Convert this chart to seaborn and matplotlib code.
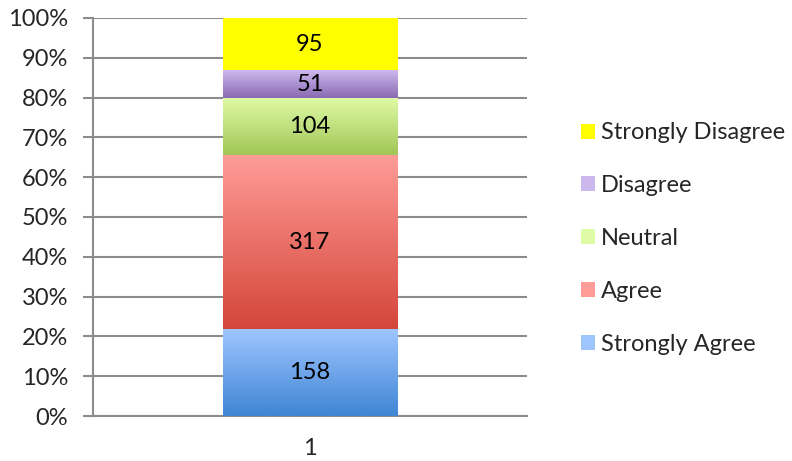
import numpy as np
import pandas as pd
import matplotlib
matplotlib.use("Agg")
import matplotlib.pyplot as plt
from matplotlib.colors import to_rgb
from matplotlib.patches import Patch
import seaborn as sns

# data
category = ["1"]
responses = ["Strongly Agree", "Agree", "Neutral", "Disagree", "Strongly Disagree"]
counts = [158, 317, 104, 51, 95]
# (top colour, bottom colour) of each gradient segment
top_colors = ["#9fc5ff", "#ff9c97", "#dffba6", "#cdb8ee", "#ffff00"]
bottom_colors = ["#3f86d5", "#d5463a", "#a2c657", "#8a6bb2", "#ffff00"]
y_ticks = [0, 0.1, 0.2, 0.3, 0.4, 0.5, 0.6, 0.7, 0.8, 0.9, 1.0]

sns.set_style("white")
plt.rcParams["font.family"] = ["Lato", "DejaVu Sans"]
FS = 17

df = pd.DataFrame({"cat": category * len(responses), "response": responses, "count": counts})
df["share"] = df["count"] / df["count"].sum()
df["bottom"] = df["share"].cumsum() - df["share"]

fig = plt.figure(figsize=(7.92, 4.61), dpi=100)
ax = fig.add_axes([0.1174, 0.0976, 0.548, 0.8634])

for i, row in df.iterrows():
    sns.barplot(x=[row["cat"]], y=[row["share"]], bottom=row["bottom"], color=bottom_colors[i],
                width=0.403, ax=ax, zorder=3, linewidth=0)

# gradient fill over each segment
for i, cont in enumerate(ax.containers):
    for p in cont:
        x0, y0, w, h = p.get_x(), p.get_y(), p.get_width(), p.get_height()
        c_top, c_bot = np.array(to_rgb(top_colors[i])), np.array(to_rgb(bottom_colors[i]))
        t = np.linspace(0, 1, 64)[:, None]
        grad = (c_top * (1 - t) + c_bot * t)[:, None, :]
        ax.imshow(grad, extent=[x0, x0 + w, y0, y0 + h], origin="upper", aspect="auto",
                  zorder=4, interpolation="bilinear")
    ax.bar_label(cont, labels=[str(counts[i])], label_type="center", fontsize=FS,
                 color="black", zorder=6)

ax.set_xlim(-0.5, 0.5)
ax.set_ylim(0, 1)
ax.set_yticks(y_ticks)
ax.set_yticklabels([f"{int(round(v * 100))}%" for v in y_ticks], fontsize=FS)
ax.set_xticks([0])
ax.set_xticklabels(category, fontsize=FS)
ax.set_xticks([-0.5, 0.5], minor=True)
ax.tick_params(axis="x", which="major", length=0, pad=16)
ax.tick_params(axis="x", which="minor", length=7, width=1.5, color="#8c8c8c", direction="out")
ax.tick_params(axis="y", length=7, width=1.5, color="#8c8c8c", direction="out", left=True, pad=11)
ax.yaxis.grid(True, color="#8c8c8c", linewidth=1.5, zorder=0)
ax.set_axisbelow(True)
ax.set_xlabel("")
ax.set_ylabel("")
for s in ["top", "right"]:
    ax.spines[s].set_visible(False)
for s in ["left", "bottom"]:
    ax.spines[s].set_color("#8c8c8c")
    ax.spines[s].set_linewidth(1.5)

handles = [Patch(facecolor=top_colors[i], edgecolor="none") for i in range(len(responses))][::-1]
fig.legend(handles, responses[::-1], loc="upper left", bbox_to_anchor=(0.722, 0.755),
           frameon=False, fontsize=FS, labelspacing=1.35, handlelength=0.6, handleheight=0.6,
           handletextpad=0.25, borderaxespad=0)

fig.savefig("out.png", dpi=100)
